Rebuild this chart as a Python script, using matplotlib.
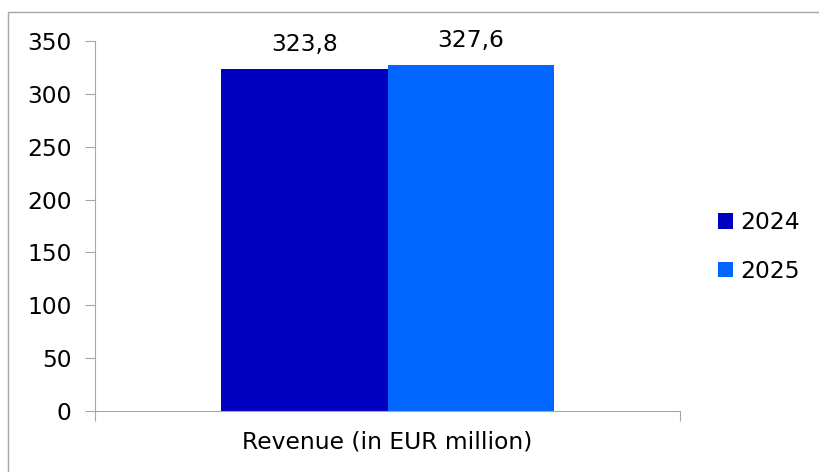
import matplotlib.pyplot as plt
from matplotlib.patches import Rectangle

plt.rcParams['font.family'] = ['DejaVu Sans']

categories = ["Revenue (in EUR million)"]
years = ["2024", "2025"]
revenue_2024 = [323.8]
revenue_2025 = [327.6]
colors = ["#0000C0", "#0066FF"]

fig = plt.figure(figsize=(8.19, 4.72), dpi=100)
ax = fig.add_axes([95/819, 1-411/472, (680-95)/819, (411-41)/472])

w = 0.284
fs = 16.8
series = [revenue_2024, revenue_2025]
for i, (vals, yr, c) in enumerate(zip(series, years, colors)):
    xs = [j + (i - 0.5) * w for j in range(len(categories))]
    bars = ax.bar(xs, vals, width=w, color=c, label=yr)
    for b, v in zip(bars, vals):
        ax.text(b.get_x() + b.get_width()/2, v + 12, f"{v:.1f}".replace(".", ","),
                ha="center", va="bottom", fontsize=fs)

ax.set_xlim(-0.5, len(categories) - 0.5)
ax.set_ylim(0, 350)
ax.set_yticks(range(0, 351, 50))
ax.set_xticks([-0.5, 0.5])
ax.set_xticklabels([])
ax.set_xticks(range(len(categories)), minor=True)
ax.set_xticklabels(categories, minor=True, fontsize=fs)
ax.tick_params(axis="x", which="minor", length=0, pad=14)
ax.tick_params(axis="x", which="major", length=7, color="#A6A6A6")
ax.tick_params(axis="y", length=7, color="#A6A6A6", labelsize=fs, pad=10)

for s in ["top", "right"]:
    ax.spines[s].set_visible(False)
for s in ["left", "bottom"]:
    ax.spines[s].set_color("#A6A6A6")

ax.legend(loc="center left", bbox_to_anchor=(697/819, 1-247/472),
          bbox_transform=fig.transFigure, frameon=False, fontsize=fs,
          handlelength=0.65, handleheight=0.65, handletextpad=0.3, labelspacing=1.1)

# outer frame
fig.patches.append(Rectangle((8/819, -0.1), 2, 1.1 - 12/472, transform=fig.transFigure,
                             fill=False, edgecolor="#A6A6A6", linewidth=1))

fig.savefig("out.png", dpi=100)
